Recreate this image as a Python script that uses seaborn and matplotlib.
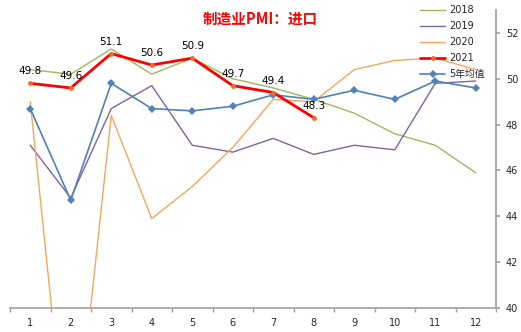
import matplotlib
matplotlib.use("Agg")
import matplotlib.pyplot as plt
import seaborn as sns
import pandas as pd
import numpy as np

months = list(range(1, 13))
s2018 = [50.4, 50.2, 51.3, 50.2, 50.9, 50.0, 49.6, 49.1, 48.5, 47.6, 47.1, 45.9]
s2019 = [47.1, 44.8, 48.7, 49.7, 47.1, 46.8, 47.4, 46.7, 47.1, 46.9, 49.8, 49.9]
s2020 = [49.0, 31.9, 48.4, 43.9, 45.3, 47.0, 49.1, 49.0, 50.4, 50.8, 50.9, 50.4]
s2021 = [49.8, 49.6, 51.1, 50.6, 50.9, 49.7, 49.4, 48.3]
avg5 = [48.7, 44.7, 49.8, 48.7, 48.6, 48.8, 49.3, 49.1, 49.5, 49.1, 49.9, 49.6]
labels2021 = ["49.8", "49.6", "51.1", "50.6", "50.9", "49.7", "49.4", "48.3"]
title = "制造业PMI：进口"

sns.set_theme(style="white")
plt.rcParams['font.family'] = ['DejaVu Sans', 'Noto Sans CJK SC']

fig = plt.figure(figsize=(5.21, 3.32), dpi=100)
ax = fig.add_axes([10/521, 1 - 308/332, 486/521, 298/332])

series = [
    ("2018", s2018, "#9BBB59", 1.0, None, 0),
    ("2019", s2019, "#8064A2", 1.0, None, 0),
    ("2020", s2020, "#F9A65A", 1.0, None, 0),
    ("2021", s2021, "#FF0000", 2.0, "o", 3.5),
    ("5年均值", avg5, "#4F81BD", 1.2, "D", 4.5),
]
for name, vals, col, lw, mk, ms in series:
    df = pd.DataFrame({"m": months[:len(vals)], "v": vals})
    kw = {}
    if mk:
        kw = dict(marker=mk, markersize=ms, markeredgewidth=0)
        if name == "2021":
            kw.update(markerfacecolor="#F26B2A")
        else:
            kw.update(markerfacecolor=col)
    sns.lineplot(data=df, x="m", y="v", ax=ax, color=col, linewidth=lw,
                 label=name, zorder=5 if name == "2021" else 3, **kw)

for m, v, t in zip(months, s2021, labels2021):
    ax.annotate(t, (m, v), xytext=(0, 5), textcoords="offset points",
                ha="center", va="bottom", fontsize=7.5, color="black", zorder=6)

ax.set_xlim(0.5, 12.5)
ax.set_ylim(40, 53)
ax.set_xlabel("")
ax.set_ylabel("")
ax.set_xticks(months)
ax.set_xticklabels([str(m) for m in months], fontsize=7)
ax.set_xticks(np.arange(0.5, 13, 1), minor=True)
ax.tick_params(axis="x", which="major", length=0, pad=7)
ax.tick_params(axis="x", which="minor", length=3, color="#A0A0A0", direction="out", bottom=True)
ax.yaxis.tick_right()
ax.set_yticks(range(40, 53, 2))
ax.set_yticklabels([str(v) for v in range(40, 53, 2)], fontsize=7)
ax.tick_params(axis="y", length=3, color="#A0A0A0", direction="out", right=True, left=False, pad=4)

for s in ["top", "left"]:
    ax.spines[s].set_visible(False)
for s in ["bottom", "right"]:
    ax.spines[s].set_color("#A0A0A0")
    ax.spines[s].set_linewidth(1.2)

ax.text(0.514, 0.97, title, transform=ax.transAxes, ha="center", va="center",
        fontsize=10.5, fontweight="bold", color="#FF0000",
        family=["Noto Sans CJK SC", "DejaVu Sans"])

leg = ax.legend(loc="upper right", bbox_to_anchor=(0.995, 1.045), frameon=False,
                handlelength=2.6, labelspacing=0.62, handletextpad=0.4,
                prop={"family": ["DejaVu Sans", "Noto Sans CJK SC"], "size": 7})

fig.savefig("out.png", dpi=100)
